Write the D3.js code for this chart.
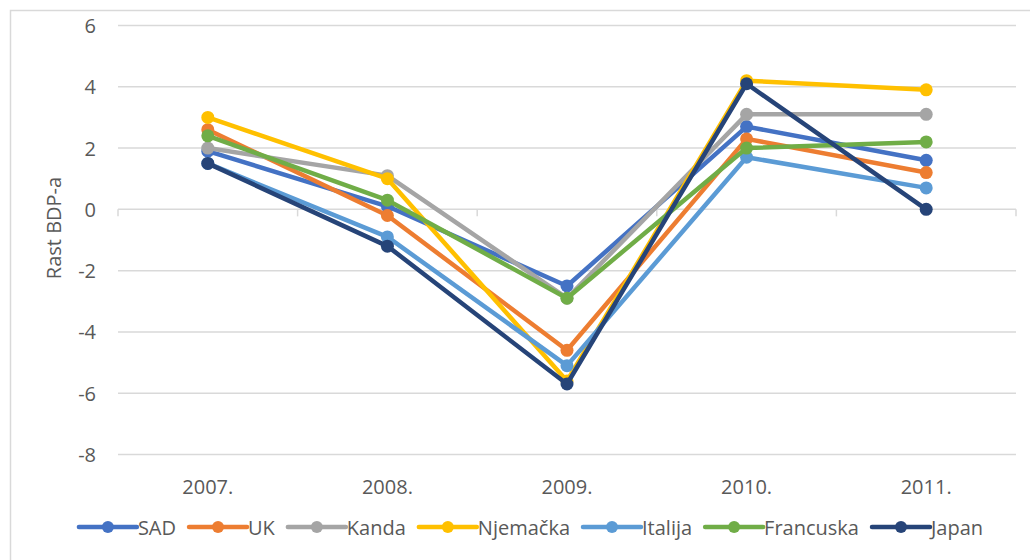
<!DOCTYPE html>
<html>
<head>
<meta charset="utf-8">
<script src="https://cdn.jsdelivr.net/npm/d3@7"></script>
<style>
  body { margin: 0; background: #fff; }
  text { font-family: "Open Sans", sans-serif; fill: #595959; }
</style>
</head>
<body>
<div id="chart"></div>
<script>
const years = ['2007.', '2008.', '2009.', '2010.', '2011.'];
const countries = ['SAD', 'UK', 'Kanda', 'Njemačka', 'Italija', 'Francuska', 'Japan'];
const colors = ['#4472C4', '#ED7D31', '#A5A5A5', '#FFC000', '#5B9BD5', '#70AD47', '#264478'];

const sad = [1.9, 0.1, -2.5, 2.7, 1.6];
const uk = [2.6, -0.2, -4.6, 2.3, 1.2];
const kanda = [2.0, 1.1, -2.9, 3.1, 3.1];
const njemacka = [3.0, 1.0, -5.6, 4.2, 3.9];
const italija = [1.5, -0.9, -5.1, 1.7, 0.7];
const francuska = [2.4, 0.3, -2.9, 2.0, 2.2];
const japan = [1.5, -1.2, -5.7, 4.1, 0.0];
const series = [sad, uk, kanda, njemacka, italija, francuska, japan];

const yTicks = [-8, -6, -4, -2, 0, 2, 4, 6];

const width = 1030;
const height = 560;
const margin = { top: 25.5, right: 14, bottom: 106, left: 118 };

const svg = d3.select('#chart').append('svg').attr('width', width).attr('height', height);

// outer chart border (runs past the right and bottom edges)
svg.append('rect')
  .attr('x', 10.5).attr('y', 10.5)
  .attr('width', 1060).attr('height', 600)
  .attr('fill', 'none').attr('stroke', '#d9d9d9').attr('stroke-width', 1.5);

const x = d3.scaleBand().domain(years).range([margin.left, width - margin.right]);
const y = d3.scaleLinear().domain([-8, 6]).range([height - margin.bottom + 0.5, margin.top]);

// gridlines
svg.append('g')
  .selectAll('line')
  .data(yTicks)
  .enter()
  .append('line')
  .attr('x1', margin.left)
  .attr('x2', width - margin.right)
  .attr('y1', (d) => y(d))
  .attr('y2', (d) => y(d))
  .attr('stroke', '#d9d9d9')
  .attr('stroke-width', 1.5);

// category tick marks on the zero line
const bounds = years.map((d) => x(d)).concat([x(years[years.length - 1]) + x.bandwidth()]);
svg.append('g')
  .selectAll('line')
  .data(bounds)
  .enter()
  .append('line')
  .attr('x1', (d) => d)
  .attr('x2', (d) => d)
  .attr('y1', y(0))
  .attr('y2', y(0) + 7)
  .attr('stroke', '#d9d9d9')
  .attr('stroke-width', 1.5);

// y tick labels
svg.append('g')
  .selectAll('text')
  .data(yTicks)
  .enter()
  .append('text')
  .attr('x', 96)
  .attr('y', (d) => y(d))
  .attr('text-anchor', 'end')
  .attr('dominant-baseline', 'central')
  .attr('font-size', 20)
  .text((d) => d);

// x tick labels
svg.append('g')
  .selectAll('text')
  .data(years)
  .enter()
  .append('text')
  .attr('x', (d) => x(d) + x.bandwidth() / 2)
  .attr('y', 486)
  .attr('text-anchor', 'middle')
  .attr('dominant-baseline', 'central')
  .attr('font-size', 20)
  .text((d) => d);

// y axis title
svg.append('text')
  .attr('transform', 'translate(53,228) rotate(-90)')
  .attr('text-anchor', 'middle')
  .attr('dominant-baseline', 'central')
  .attr('font-size', 20)
  .text('Rast BDP-a');

const line = d3
  .line()
  .x((d, i) => x(years[i]) + x.bandwidth() / 2)
  .y((d) => y(d));

series.forEach((values, s) => {
  const g = svg.append('g');
  g.append('path')
    .datum(values)
    .attr('d', line)
    .attr('fill', 'none')
    .attr('stroke', colors[s])
    .attr('stroke-width', 4.5)
    .attr('stroke-linejoin', 'round');
  g.selectAll('circle')
    .data(values)
    .enter()
    .append('circle')
    .attr('cx', (d, i) => x(years[i]) + x.bandwidth() / 2)
    .attr('cy', (d) => y(d))
    .attr('r', 6.5)
    .attr('fill', colors[s]);
});

// legend
const legend = svg.append('g');
const legendY = 527;
const lineLen = 58;
const items = countries.map((name, i) => {
  const item = legend.append('g');
  item.append('line')
    .attr('x1', 0).attr('x2', lineLen)
    .attr('y1', legendY).attr('y2', legendY)
    .attr('stroke', colors[i]).attr('stroke-width', 4.5)
    .attr('stroke-linecap', 'round');
  item.append('circle')
    .attr('cx', lineLen / 2).attr('cy', legendY).attr('r', 6)
    .attr('fill', colors[i]);
  const t = item.append('text')
    .attr('x', lineLen + 1)
    .attr('y', legendY)
    .attr('dominant-baseline', 'central')
    .attr('font-size', 20)
    .text(name);
  return { item, w: lineLen + 1 + t.node().getComputedTextLength() };
});
const gap = 13;
const total = d3.sum(items, (d) => d.w) + gap * (items.length - 1);
let cursor = 531 - total / 2;
items.forEach((d) => {
  d.item.attr('transform', `translate(${cursor},0)`);
  cursor += d.w + gap;
});
</script>
</body>
</html>
